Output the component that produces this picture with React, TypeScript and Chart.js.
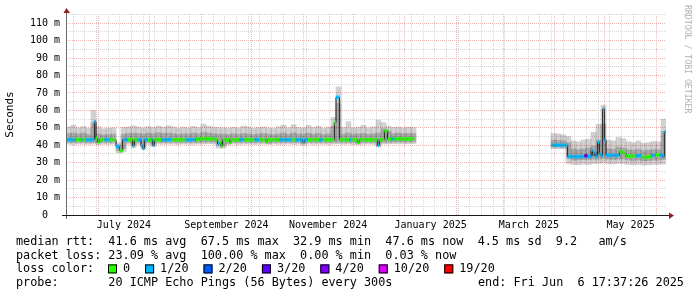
import { useEffect, useRef } from 'react';
import { Chart, registerables } from 'chart.js';

Chart.register(...registerables);

// ---------------- data ----------------
const START_UTC = Date.UTC(2024, 5, 11, 17, 37, 26); // graph start = end - 360 days
const SPAN_DAYS = 360;
const Y_MAX = 115.3;

const seg1StartDay = 0;
const seg2StartDay = 291;
const smokeStepDays = 3;

// daily median rtt (ms), segment 1 (Jun 11 2024 .. Jan 6 2025)
const median1 = [
  43.2, 43.2, 43.3, 43.2, 43.1, 43.2, 43.2, 43.3, 43.2, 43.2,
  43.2, 43.3, 43.2, 43.1, 43.2, 43.2, 43.3, 53.5, 44.0, 41.8,
  43.2, 43.1, 43.2, 43.2, 43.3, 43.2, 43.2, 43.1, 43.2, 43.2,
  39.4, 39.2, 37.0, 36.8, 43.2, 43.2, 43.1, 43.2, 43.2, 43.3,
  39.7, 43.2, 43.2, 43.1, 43.2, 39.6, 38.2, 43.2, 43.2, 43.1,
  43.2, 43.2, 40.1, 43.2, 43.2, 43.3, 43.2, 43.2, 43.1, 43.2,
  43.2, 43.2, 43.3, 43.2, 43.2, 43.1, 43.2, 43.2, 43.2, 43.3,
  43.2, 43.2, 43.2, 43.1, 43.2, 43.2, 43.2, 43.3, 43.4, 43.5,
  43.7, 43.8, 43.7, 43.7, 43.8, 43.7, 43.6, 43.7, 43.7, 43.5,
  43.3, 40.8, 41.5, 39.4, 43.2, 43.2, 43.1, 43.2, 41.7, 43.2,
  43.2, 43.1, 43.2, 43.2, 43.2, 43.3, 43.2, 43.2, 43.1, 43.2,
  43.2, 43.2, 43.3, 43.2, 43.2, 43.1, 43.2, 43.2, 43.2, 43.3,
  42.0, 43.2, 43.2, 43.1, 43.2, 43.2, 43.2, 43.3, 43.2, 43.2,
  43.2, 43.1, 43.2, 43.2, 43.2, 43.3, 43.2, 43.2, 43.1, 43.2,
  43.2, 43.2, 41.7, 43.2, 43.2, 43.1, 43.2, 43.2, 43.3, 43.2,
  43.2, 43.2, 43.1, 43.2, 43.2, 43.2, 43.3, 43.2, 43.2, 43.2,
  43.1, 53.0, 67.5, 67.5, 43.2, 43.2, 43.2, 43.3, 43.2, 43.2,
  43.2, 43.1, 43.2, 43.2, 43.2, 41.7, 43.2, 43.2, 43.3, 43.2,
  43.2, 43.2, 43.1, 43.2, 43.2, 43.2, 43.3, 40.0, 43.2, 43.3,
  43.3, 48.3, 48.3, 43.5, 43.6, 43.6, 43.7, 43.6, 43.6, 43.7,
  43.6, 43.7, 43.6, 43.6, 43.7, 43.6, 43.6, 43.7, 43.6,
];
// lost pings out of 20, segment 1
const loss1 = [
  1, 1, 1, 1, 1, 1, 0, 0, 0, 1,
  0, 0, 1, 1, 1, 1, 1, 1, 0, 0,
  0, 0, 0, 1, 1, 1, 0, 0, 0, 0,
  1, 1, 0, 0, 1, 1, 1, 0, 0, 0,
  1, 0, 0, 1, 1, 1, 1, 1, 1, 0,
  0, 1, 1, 0, 0, 0, 0, 1, 1, 1,
  1, 1, 1, 0, 0, 0, 0, 0, 0, 0,
  0, 0, 1, 1, 1, 1, 1, 1, 0, 0,
  0, 0, 0, 0, 0, 0, 0, 0, 0, 0,
  0, 1, 0, 0, 0, 0, 0, 0, 0, 0,
  0, 0, 0, 0, 1, 1, 1, 0, 0, 0,
  0, 0, 0, 1, 1, 1, 0, 0, 0, 0,
  0, 0, 0, 0, 0, 0, 0, 0, 1, 1,
  1, 1, 1, 1, 1, 0, 0, 0, 1, 1,
  1, 1, 1, 1, 1, 0, 0, 0, 0, 0,
  0, 0, 1, 1, 0, 0, 0, 0, 0, 0,
  0, 0, 1, 1, 0, 0, 0, 0, 0, 0,
  1, 0, 0, 0, 0, 0, 0, 0, 0, 0,
  0, 0, 0, 0, 0, 0, 0, 1, 0, 0,
  0, 0, 0, 0, 0, 1, 1, 0, 0, 0,
  0, 0, 0, 0, 0, 0, 0, 0, 0,
];
// daily median rtt (ms), segment 2 (Mar 29 2025 .. Jun 6 2025)
const median2 = [
  40.0, 40.1, 40.0, 40.0, 40.1, 40.0, 40.0, 40.1, 40.0, 40.0,
  33.5, 33.5, 33.6, 33.5, 33.5, 33.4, 33.5, 33.5, 33.6, 33.5,
  34.0, 34.0, 33.5, 33.5, 37.2, 34.0, 36.0, 33.6, 41.7, 35.0,
  33.8, 60.8, 43.0, 34.4, 34.2, 34.2, 34.3, 34.2, 34.2, 34.1,
  34.2, 36.3, 36.3, 35.5, 35.5, 33.8, 33.8, 33.7, 33.8, 33.8,
  33.8, 34.0, 34.0, 34.0, 33.3, 33.3, 32.9, 33.3, 33.3, 33.4,
  34.2, 34.2, 34.2, 34.5, 34.5, 34.4, 34.4, 33.4, 47.6,
];
const loss2 = [
  1, 1, 1, 1, 1, 1, 1, 1, 1, 1,
  1, 1, 1, 1, 1, 1, 1, 1, 1, 1,
  3, 3, 1, 1, 1, 1, 1, 1, 1, 1,
  1, 1, 1, 1, 1, 1, 1, 1, 1, 1,
  1, 0, 0, 0, 0, 0, 0, 0, 0, 0,
  0, 1, 1, 1, 0, 0, 0, 0, 0, 0,
  1, 1, 1, 0, 0, 1, 1, 1, 1,
];

// smoke (ping spread), 3-day buckets
const smokeMax1 = [
  50.5, 51.5, 50.0, 50.8, 49.8, 60.0, 50.5, 49.6, 49.8, 50.0,
  41.5, 50.2, 50.6, 51.2, 50.5, 50.0, 50.8, 50.2, 51.0, 50.4,
  51.2, 50.6, 49.8, 50.4, 50.0, 50.8, 50.2, 52.2, 51.0, 50.4,
  50.2, 50.0, 49.8, 50.3, 50.0, 51.0, 50.5, 49.8, 50.2, 50.6,
  50.0, 49.7, 50.6, 51.5, 50.0, 51.8, 50.2, 50.0, 51.4, 50.2,
  51.0, 49.8, 50.4, 56.0, 73.5, 50.2, 53.5, 50.0, 50.4, 51.5,
  50.0, 50.6, 54.4, 53.0, 51.0, 50.2, 50.5, 50.0, 50.4, 50.2,
];
const smokeHi1 = [
  46.8, 47.0, 46.5, 47.0, 46.2, 53.0, 46.5, 46.0, 46.2, 46.5,
  40.2, 46.5, 46.8, 47.0, 46.8, 46.5, 47.0, 46.6, 47.2, 46.8,
  47.0, 46.7, 46.3, 46.6, 46.5, 47.0, 46.6, 47.5, 47.0, 46.6,
  46.5, 46.4, 46.2, 46.6, 46.4, 46.8, 46.5, 46.2, 46.5, 46.8,
  46.4, 46.2, 46.5, 47.0, 46.4, 47.0, 46.5, 46.4, 46.9, 46.4,
  46.8, 46.2, 46.6, 51.0, 64.0, 46.4, 47.0, 46.3, 46.6, 46.8,
  46.3, 46.6, 47.0, 49.5, 48.0, 46.8, 47.0, 46.6, 46.8, 46.8,
];
const smokeLo1 = [
  41.7, 41.6, 41.7, 41.7, 41.6, 41.7, 41.5, 41.7, 41.6, 41.7,
  37.0, 38.0, 41.7, 40.0, 41.6, 39.0, 41.7, 40.5, 41.7, 41.6,
  41.7, 41.7, 41.6, 41.7, 41.7, 41.6, 41.7, 41.8, 41.9, 41.8,
  40.0, 40.0, 41.0, 41.7, 41.6, 41.7, 41.7, 41.6, 41.7, 41.7,
  41.0, 41.7, 41.6, 41.7, 41.7, 41.6, 41.7, 41.0, 41.7, 41.6,
  41.7, 41.7, 41.6, 41.7, 41.8, 41.7, 41.7, 41.6, 41.2, 41.7,
  41.7, 41.6, 40.0, 41.7, 41.9, 41.9, 42.0, 41.9, 41.9, 42.0,
];
const smokeMin1 = [
  40.7, 40.5, 40.7, 40.6, 40.5, 40.7, 40.3, 40.6, 40.5, 40.7,
  35.6, 36.2, 40.6, 38.6, 40.5, 37.5, 40.6, 39.2, 40.7, 40.5,
  40.7, 40.6, 40.5, 40.7, 40.6, 40.5, 40.7, 40.8, 40.9, 40.8,
  38.4, 38.5, 40.2, 40.7, 40.5, 40.6, 40.7, 40.5, 40.6, 40.7,
  40.5, 40.7, 40.5, 40.6, 40.7, 40.5, 40.6, 40.0, 40.7, 40.5,
  40.7, 40.6, 40.5, 40.7, 40.8, 40.6, 40.7, 40.5, 40.2, 40.6,
  40.7, 40.5, 39.0, 40.7, 40.9, 40.9, 41.0, 40.9, 40.9, 41.0,
];
const smokeMax2 = [
  46.8, 46.5, 46.0, 45.0, 42.5, 42.0, 43.0, 43.5, 47.5, 52.0,
  63.0, 43.0, 42.5, 44.5, 43.8, 42.0, 41.5, 42.5, 41.2, 41.5,
  42.2, 42.0, 55.0,
];
const smokeHi2 = [
  43.0, 42.8, 42.6, 41.5, 38.0, 37.5, 38.0, 38.5, 39.5, 43.0,
  52.0, 38.0, 37.8, 39.0, 38.5, 37.5, 37.2, 37.8, 37.0, 37.2,
  37.6, 37.5, 48.0,
];
const smokeLo2 = [
  38.9, 38.9, 38.8, 32.5, 31.5, 31.5, 31.8, 31.8, 32.0, 32.0,
  32.5, 32.0, 31.8, 32.0, 32.0, 31.5, 31.3, 31.5, 31.0, 31.2,
  31.5, 31.5, 31.8,
];
const smokeMin2 = [
  38.0, 38.0, 37.9, 29.5, 29.0, 28.8, 29.2, 29.0, 29.5, 29.5,
  29.8, 29.4, 29.2, 29.6, 29.4, 29.0, 28.8, 29.0, 28.6, 28.8,
  29.0, 29.0, 29.2,
];

const lossLevels = [0, 1, 2, 3, 4, 10, 19];
const lossColors = ['#26ff00', '#00b8ff', '#0059ff', '#5e00ff', '#7e00ff', '#dd00ff', '#ff0000'];
const lossLabels = ['0', '1/20', '2/20', '3/20', '4/20', '10/20', '19/20'];

const monthLabels = ['July 2024', 'September 2024', 'November 2024', 'January 2025', 'March 2025', 'May 2025'];
const labelMonths = [[2024, 6], [2024, 8], [2024, 10], [2025, 0], [2025, 2], [2025, 4]];

const yTickValues = [0, 5, 10, 15, 20, 25, 30, 35, 40, 45, 50, 55, 60, 65, 70, 75, 80, 85, 90, 95, 100, 105, 110, 115];

const legendRows = [
  'median rtt:  41.6 ms avg  67.5 ms max  32.9 ms min  47.6 ms now  4.5 ms sd  9.2   am/s',
  'packet loss: 23.09 % avg  100.00 % max  0.00 % min  0.03 % now',
  'loss color:',
  'probe:       20 ICMP Echo Pings (56 Bytes) every 300s',
];
const endText = 'end: Fri Jun  6 17:37:26 2025';
const watermark = 'RRDTOOL / TOBI OETIKER';

// ---------------- helpers ----------------
const FONT = '"DejaVu Sans Mono", monospace';
const MAJOR = '#ebb6b6';
const MINOR = '#d6d6d6';
const DAY_MS = 86400000;
const dayOf = (y: number, m: number, d: number) => (Date.UTC(y, m, d) - START_UTC) / DAY_MS;
const HALF_LINE = 0.85; // half thickness of the loss-coloured median line, in ms

const lossColor = (lost: number) => {
  let idx = 0;
  lossLevels.forEach((lv, i) => { if (lost >= lv) idx = i; });
  return lossColors[idx];
};

type XT = { value: number; kind: 'week' | 'month' | 'label'; label: string };
const xTicks: XT[] = [];
for (let m = 0; ; m++) {
  const d = dayOf(2024, 6 + m, 1);
  if (d > SPAN_DAYS) break;
  xTicks.push({ value: d, kind: 'month', label: '' });
}
for (let d = dayOf(2024, 5, 16); d < SPAN_DAYS; d += 7) {
  if (!xTicks.some((t) => Math.abs(t.value - d) < 0.01)) xTicks.push({ value: d, kind: 'week', label: '' });
}
labelMonths.forEach(([y, m], i) => {
  xTicks.push({ value: (dayOf(y, m, 1) + dayOf(y, m + 1, 1)) / 2, kind: 'label', label: monthLabels[i] });
});
xTicks.sort((a, b) => a.value - b.value);

function buildData() {
  const medianBars: any[] = [];
  const medianColors: string[] = [];
  const medianLine: any[] = [];
  median1.forEach((v, i) => {
    const x = seg1StartDay + i + 0.5;
    medianBars.push({ x, y: [v - HALF_LINE, v + HALF_LINE] });
    medianColors.push(lossColor(loss1[i]));
    medianLine.push({ x, y: v });
  });
  medianLine.push({ x: (seg1StartDay + median1.length + seg2StartDay) / 2, y: null });
  median2.forEach((v, i) => {
    const x = seg2StartDay + i + 0.5;
    medianBars.push({ x, y: [v - HALF_LINE, v + HALF_LINE] });
    medianColors.push(lossColor(loss2[i]));
    medianLine.push({ x, y: v });
  });
  const light: any[] = [];
  const dark: any[] = [];
  smokeMax1.forEach((v, i) => {
    const x = seg1StartDay + smokeStepDays * (i + 0.5);
    light.push({ x, y: [smokeMin1[i], v] });
    dark.push({ x, y: [smokeLo1[i], smokeHi1[i]] });
  });
  smokeMax2.forEach((v, i) => {
    const x = seg2StartDay + smokeStepDays * (i + 0.5);
    light.push({ x, y: [smokeMin2[i], v] });
    dark.push({ x, y: [smokeLo2[i], smokeHi2[i]] });
  });
  return { medianBars, medianColors, medianLine, light, dark };
}

const decorPlugin = {
  id: 'decor',
  afterDraw(chart: any) {
    const { ctx, chartArea: a } = chart;
    ctx.save();
    // y axis
    const ax = a.left + 0.5;
    ctx.strokeStyle = '#6a6a6a';
    ctx.lineWidth = 1;
    ctx.beginPath();
    ctx.moveTo(ax, a.bottom + 4);
    ctx.lineTo(ax, a.top - 2);
    ctx.stroke();
    // x axis
    const ay = a.bottom + 0.5;
    ctx.strokeStyle = '#1a1a1a';
    ctx.beginPath();
    ctx.moveTo(a.left - 4, ay);
    ctx.lineTo(a.right + 4, ay);
    ctx.stroke();
    // arrows
    ctx.fillStyle = '#9b1c1c';
    ctx.beginPath();
    ctx.moveTo(ax - 3, a.top - 1);
    ctx.lineTo(ax + 3.5, a.top - 1);
    ctx.lineTo(ax, a.top - 6);
    ctx.closePath();
    ctx.fill();
    ctx.beginPath();
    ctx.moveTo(a.right + 3, ay - 3);
    ctx.lineTo(a.right + 3, ay + 3.5);
    ctx.lineTo(a.right + 8, ay);
    ctx.closePath();
    ctx.fill();

    // watermark
    ctx.save();
    ctx.translate(687, 5);
    ctx.rotate(Math.PI / 2);
    ctx.font = `8.2px ${FONT}`;
    ctx.fillStyle = '#b0b0b0';
    ctx.textBaseline = 'middle';
    ctx.textAlign = 'left';
    ctx.fillText(watermark, 0, 0);
    ctx.restore();

    // legend
    const baselines = [245, 258.7, 272.4, 286];
    ctx.font = `11.8px ${FONT}`;
    ctx.fillStyle = '#000';
    ctx.textBaseline = 'alphabetic';
    ctx.textAlign = 'left';
    legendRows.forEach((t, i) => ctx.fillText(t, 16, baselines[i]));
    ctx.fillText(endText, 478, baselines[3]);
    let bx = 108;
    lossColors.forEach((c, i) => {
      ctx.fillStyle = c;
      ctx.fillRect(bx, baselines[2] - 8, 9, 9);
      ctx.strokeStyle = '#000';
      ctx.strokeRect(bx + 0.5, baselines[2] - 7.5, 8, 8);
      ctx.fillStyle = '#000';
      const lx = bx + 15;
      ctx.fillText(lossLabels[i], lx, baselines[2]);
      bx = lx + ctx.measureText(lossLabels[i]).width + 15;
    });
    ctx.restore();
  },
};

export default function App() {
  const ref = useRef<HTMLCanvasElement>(null);
  useEffect(() => {
    Chart.defaults.font.family = FONT;
    const d = buildData();
    const chart = new Chart(ref.current as HTMLCanvasElement, {
      type: 'bar',
      data: {
        datasets: [
          {
            type: 'bar',
            label: 'median',
            data: d.medianBars,
            xAxisID: 'x',
            backgroundColor: d.medianColors,
            borderWidth: 0,
            grouped: false,
            barPercentage: 1,
            categoryPercentage: 1,
            order: 1,
          } as any,
          {
            type: 'line',
            label: 'median line',
            data: d.medianLine,
            xAxisID: 'x',
            borderColor: '#1c1c1c',
            borderWidth: 1,
            pointRadius: 0,
            stepped: 'middle',
            spanGaps: false,
            fill: false,
            order: 2,
          } as any,
          {
            type: 'bar',
            label: 'smoke inner',
            data: d.dark,
            xAxisID: 'xs',
            backgroundColor: 'rgba(0,0,0,0.19)',
            borderWidth: 0,
            grouped: false,
            barPercentage: 1,
            categoryPercentage: 1,
            order: 3,
          } as any,
          {
            type: 'bar',
            label: 'smoke outer',
            data: d.light,
            xAxisID: 'xs',
            backgroundColor: 'rgba(0,0,0,0.18)',
            borderWidth: 0,
            grouped: false,
            barPercentage: 1,
            categoryPercentage: 1,
            order: 4,
          } as any,
        ],
      },
      options: {
        responsive: false,
        maintainAspectRatio: false,
        animation: false,
        devicePixelRatio: 1,
        events: [],
        layout: { padding: { left: 0, top: 14, right: 31, bottom: 0 } },
        plugins: { legend: { display: false }, tooltip: { enabled: false }, title: { display: false } },
        scales: {
          x: {
            type: 'linear',
            min: 0,
            max: SPAN_DAYS,
            offset: false,
            afterBuildTicks: (s: any) => {
              s.ticks = xTicks.map((t) => ({ value: t.value, major: t.kind === 'month' }));
            },
            afterFit: (s: any) => {
              s.height = 82;
            },
            grid: {
              offset: false,
              drawTicks: false,
              lineWidth: 1,
              color: (c: any) => {
                const t = xTicks[c.index];
                if (!t) return 'rgba(0,0,0,0)';
                return t.kind === 'month' ? MAJOR : t.kind === 'week' ? MINOR : 'rgba(0,0,0,0)';
              },
            },
            border: { display: false, dash: [1, 1] },
            ticks: {
              autoSkip: false,
              maxRotation: 0,
              minRotation: 0,
              padding: 4,
              color: '#000',
              font: { family: FONT, size: 10 },
              callback: (_v: any, i: number) => (xTicks[i] ? xTicks[i].label : ''),
            },
          },
          xs: {
            type: 'linear',
            min: 0,
            max: SPAN_DAYS,
            offset: false,
            display: false,
          },
          y: {
            type: 'linear',
            min: 0,
            max: Y_MAX,
            afterBuildTicks: (s: any) => {
              s.ticks = yTickValues.map((v) => ({ value: v }));
            },
            afterFit: (s: any) => {
              s.width = 66;
            },
            grid: {
              drawTicks: false,
              lineWidth: 1,
              color: (c: any) => {
                const v = yTickValues[c.index];
                if (v === undefined || v === 0) return 'rgba(0,0,0,0)';
                return v % 10 === 0 ? MAJOR : MINOR;
              },
            },
            border: { display: false, dash: [1, 1] },
            ticks: {
              autoSkip: false,
              padding: 6,
              color: '#000',
              font: { family: FONT, size: 10 },
              callback: (v: any) => {
                const n = Number(v);
                if (n % 10 !== 0) return '';
                return n === 0 ? '0\u00a0\u00a0' : `${n} m`;
              },
            },
            title: {
              display: true,
              text: 'Seconds',
              color: '#000',
              font: { family: FONT, size: 11 },
              padding: { top: 4, bottom: 0 },
            },
          },
        },
      } as any,
      plugins: [decorPlugin],
    });
    return () => chart.destroy();
  }, []);
  return (
    <div style={{ position: 'fixed', left: 0, top: 0, width: 697, height: 297, background: '#fff' }}>
      <canvas ref={ref} width={697} height={297} style={{ display: 'block', width: 697, height: 297 }} />
    </div>
  );
}
